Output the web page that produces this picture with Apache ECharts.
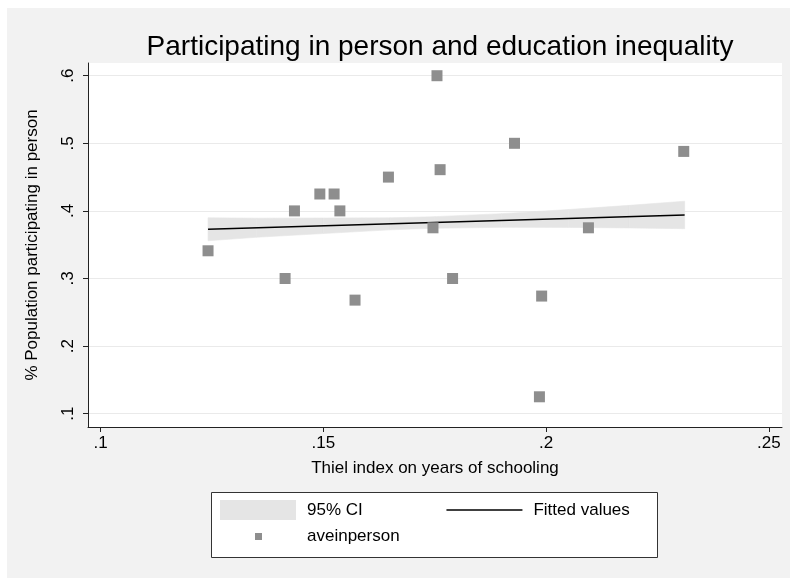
<!DOCTYPE html>
<html>
<head>
<meta charset="utf-8">
<script src="https://cdn.jsdelivr.net/npm/echarts@6/dist/echarts.min.js"></script>
<style>
  html, body { margin: 0; padding: 0; background: #fff; }
  #main { position: absolute; left: 7px; top: 8px; width: 783px; height: 570px; }
</style>
</head>
<body>
<div id="main"></div>
<script>
// scatter points: Thiel index vs share participating in person
var thiel = [0.1755, 0.1646, 0.1492, 0.1524, 0.1435, 0.1537, 0.1241, 0.1746, 0.1762,
             0.1929, 0.2309, 0.2095, 0.1414, 0.1571, 0.1790, 0.1990, 0.1985]
var inperson = [0.600, 0.450, 0.425, 0.425, 0.400, 0.400, 0.341, 0.375, 0.461,
                0.500, 0.488, 0.375, 0.300, 0.268, 0.300, 0.274, 0.125]

// fitted line ends
var fitX = [0.1241, 0.2311]
var fitY = [0.3728, 0.3940]

// 95% CI band
var ciX    = [0.1241, 0.135, 0.150, 0.165, 0.175, 0.190, 0.205, 0.2187, 0.2311]
var ciLow  = [0.3558, 0.3610, 0.3665, 0.3720, 0.3743, 0.3757, 0.3756, 0.3748, 0.3737]
var ciHigh = [0.3898, 0.3892, 0.3895, 0.3897, 0.3915, 0.3959, 0.4020, 0.4082, 0.4143]

var xTicks = [0.1, 0.15, 0.2, 0.25]
var yTicks = [0.1, 0.2, 0.3, 0.4, 0.5, 0.6]

var font = 'Liberation Sans, Arial, sans-serif'
var axisCol = '#222'

function stataLabel(v) {
    return String(Math.round(v * 100) / 100).replace(/^0/, '')
}

var scatterData = thiel.map(function (x, i) { return [x, inperson[i]] })
var fitData = fitX.map(function (x, i) { return [x, fitY[i]] })
var ciData = ciX.map(function (x, i) { return [x, ciLow[i], ciHigh[i]] })

var myChart = echarts.init(document.getElementById('main'))
myChart.setOption({
    animation: false,
    backgroundColor: '#f2f2f2',
    title: {
        text: 'Participating in person and education inequality',
        left: 428,
        top: 20,
        textAlign: 'center',
        textStyle: { fontFamily: font, fontSize: 28, fontWeight: 'normal', color: '#000' }
    },
    graphic: [{
        type: 'rect',
        shape: { x: 204.5, y: 484.5, width: 446, height: 65 },
        style: { fill: '#fff', stroke: '#333', lineWidth: 1 },
        z: 0
    }],
    legend: [{
        data: [
            { name: '95% CI', icon: 'rect' },
            {
                name: 'Fitted values',
                itemStyle: { color: 'rgba(0,0,0,0)', borderWidth: 0 },
                lineStyle: { color: '#000', width: 1.4 }
            }
        ],
        left: 213,
        top: 492,
        padding: 0,
        itemWidth: 76,
        itemHeight: 20,
        itemGap: 83,
        selectedMode: false,
        z: 5,
        textStyle: { fontFamily: font, fontSize: 17, color: '#000', padding: [0, 0, 0, 6] }
    }, {
        data: [{ name: 'aveinperson', icon: 'rect' }],
        left: 248,
        top: 520,
        padding: 0,
        itemWidth: 7,
        itemHeight: 7,
        selectedMode: false,
        z: 5,
        textStyle: { fontFamily: font, fontSize: 17, color: '#000', padding: [0, 0, 0, 40] }
    }],
    grid: {
        left: 81,
        right: 8,
        top: 55,
        bottom: 151,
        show: true,
        backgroundColor: '#fff',
        borderWidth: 0
    },
    xAxis: {
        type: 'value',
        min: 0.09715,
        max: 0.25296,
        name: 'Thiel index on years of schooling',
        nameLocation: 'middle',
        nameGap: 33,
        nameTextStyle: { fontFamily: font, fontSize: 17, color: '#000' },
        axisLine: { show: true, lineStyle: { color: axisCol, width: 1 } },
        axisTick: { show: true, length: 5, customValues: xTicks, lineStyle: { color: axisCol } },
        axisLabel: {
            customValues: xTicks,
            formatter: stataLabel,
            margin: 8,
            fontFamily: font, fontSize: 17, color: '#000'
        },
        splitLine: { show: false }
    },
    yAxis: {
        type: 'value',
        min: 0.0803,
        max: 0.6188,
        name: '% Population participating in person',
        nameLocation: 'middle',
        nameRotate: 90,
        nameGap: 47,
        nameTextStyle: { fontFamily: font, fontSize: 17, color: '#000' },
        axisLine: { show: true, lineStyle: { color: axisCol, width: 1 } },
        axisTick: { show: true, length: 5, customValues: yTicks, lineStyle: { color: axisCol } },
        axisLabel: {
            customValues: yTicks,
            formatter: stataLabel,
            rotate: 90,
            margin: 11,
            fontFamily: font, fontSize: 17, color: '#000'
        },
        splitLine: { show: true, lineStyle: { color: '#eaeaea', width: 1 } }
    },
    series: [{
        name: '95% CI',
        type: 'custom',
        itemStyle: { color: '#e5e5e5' },
        data: ciData,
        z: 2,
        renderItem: function (params, api) {
            var i = params.dataIndex
            if (i === 0) return null
            var p = ciData[i - 1]
            var q = ciData[i]
            var pts = [
                api.coord([p[0], p[1]]),
                api.coord([q[0], q[1]]),
                api.coord([q[0], q[2]]),
                api.coord([p[0], p[2]])
            ]
            return {
                type: 'polygon',
                shape: { points: pts },
                style: { fill: '#e5e5e5', stroke: '#e5e5e5', lineWidth: 0.6 }
            }
        }
    }, {
        name: 'Fitted values',
        type: 'line',
        data: fitData,
        symbol: 'none',
        z: 3,
        lineStyle: { color: '#000', width: 1.4 },
        itemStyle: { color: '#000' }
    }, {
        name: 'aveinperson',
        type: 'scatter',
        data: scatterData,
        symbol: 'rect',
        symbolSize: 11,
        z: 4,
        itemStyle: { color: '#8e8e8e', opacity: 1 }
    }]
})
</script>
</body>
</html>
